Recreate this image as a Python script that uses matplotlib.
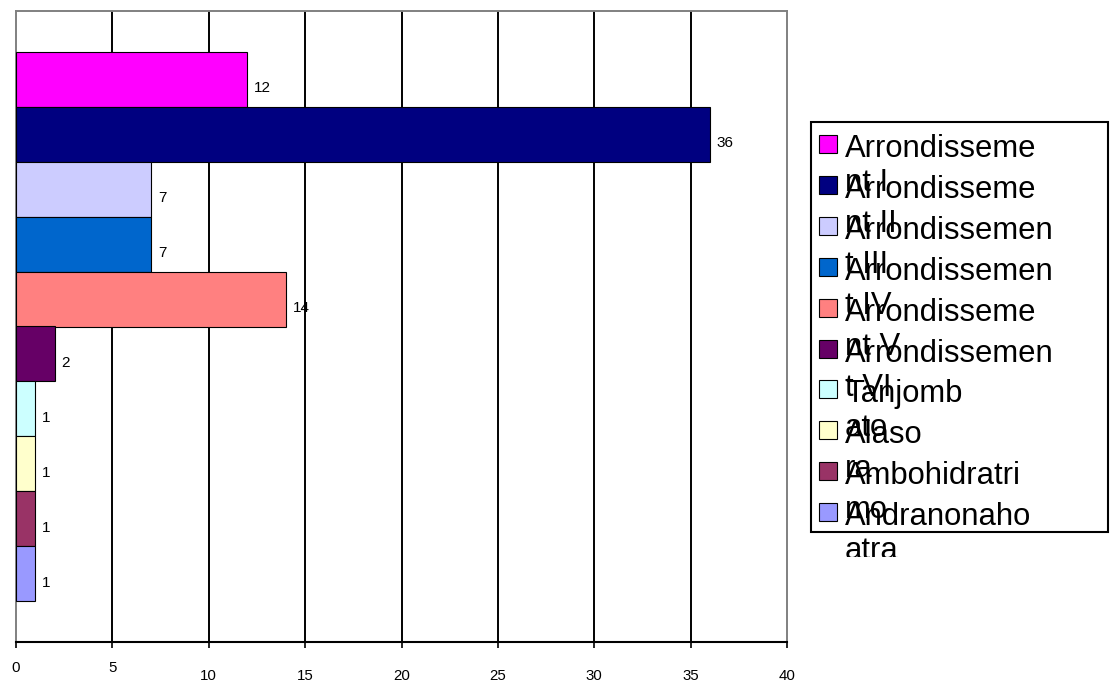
import matplotlib
matplotlib.use("Agg")
import matplotlib.pyplot as plt
import numpy as np
from matplotlib.patches import Rectangle
from matplotlib.transforms import Bbox, TransformedBbox

plt.rcParams['font.family'] = ['Liberation Sans', 'DejaVu Sans']

# number of sites per district
categories = ["Arrondissement I", "Arrondissement II", "Arrondissement III",
              "Arrondissement IV", "Arrondissement V", "Arrondissement VI",
              "Tanjombato", "Alasora", "Ambohidratrimo", "Andranonahoatra"]
counts = [12, 36, 7, 7, 14, 2, 1, 1, 1, 1]
colors = ["#FF00FF", "#000080", "#CCCCFF", "#0066CC", "#FF8080",
          "#660066", "#CCFFFF", "#FFFFCC", "#993366", "#9999FF"]
# legend labels as they wrap in the legend box
legend_lines = [("Arrondisseme", "nt I"), ("Arrondisseme", "nt II"),
                ("Arrondissemen", "t III"), ("Arrondissemen", "t IV"),
                ("Arrondisseme", "nt V"), ("Arrondissemen", "t VI"),
                ("Tanjomb", "ato"), ("Alaso", "ra"),
                ("Ambohidratri", "mo"), ("Andranonaho", "atra")]
x_ticks = [0, 5, 10, 15, 20, 25, 30, 35, 40]

W, H = 1118, 684
fig = plt.figure(figsize=(W / 100, H / 100), dpi=100)
fig.patch.set_facecolor("white")


def px(x, y):
    # pixel position (from top-left) to figure fraction
    return x / W, 1 - y / H


ax = fig.add_axes([16 / W, 1 - 642 / H, 771 / W, 631 / H])
pos = np.arange(len(counts))
ax.barh(pos, counts, height=1.0, color=colors, edgecolor="black",
        linewidth=0.8, zorder=3)
ax.set_xlim(0, 40)
gap = 41 / 54.9
ax.set_ylim(len(counts) - 0.5 + gap, -0.5 - gap)
ax.set_yticks([])
ax.set_xticks(x_ticks)

# vertical gridlines, not on the frame edges
for t in x_ticks[1:-1]:
    ax.axvline(t, color="black", linewidth=1.4, zorder=1)

for side in ["top", "left", "right"]:
    ax.spines[side].set_color("#808080")
    ax.spines[side].set_linewidth(1.4)
ax.spines["bottom"].set_color("black")
ax.spines["bottom"].set_linewidth(1.5)

ax.tick_params(axis="x", direction="out", length=4, width=1.2,
               color="black", labelsize=10.8)
for i, tick in enumerate(ax.xaxis.get_major_ticks()):
    tick.set_pad(9.4 if i < 2 else 15.2)

for i, v in enumerate(counts):
    ax.annotate(str(v), xy=(v, i), xytext=(7, -9), textcoords="offset pixels",
                ha="left", va="center", fontsize=11, zorder=4)

# legend box drawn by hand
box_x0, box_x1, box_y0, box_y1 = 811, 1108, 122, 532
fig.patches.append(Rectangle(px(box_x0, box_y1), (box_x1 - box_x0) / W,
                             (box_y1 - box_y0) / H, transform=fig.transFigure,
                             facecolor="white", edgecolor="black", linewidth=1.5))
clip = TransformedBbox(Bbox([px(box_x0, 557), px(W, box_y0)]), fig.transFigure)

step = 40.9
for i, (c, (l1, l2)) in enumerate(zip(colors, legend_lines)):
    base = 157 + i * step
    fig.patches.append(Rectangle(px(819, base - 4), 18 / W, 18 / H,
                                 transform=fig.transFigure, facecolor=c,
                                 edgecolor="black", linewidth=0.8))
    for j, txt in enumerate([l1, l2]):
        t = fig.text(*px(845, base + j * 34), txt, fontsize=22.3,
                     ha="left", va="baseline")
        t.set_clip_box(clip)
        t.set_clip_on(True)

fig.savefig("out.png", dpi=100)
